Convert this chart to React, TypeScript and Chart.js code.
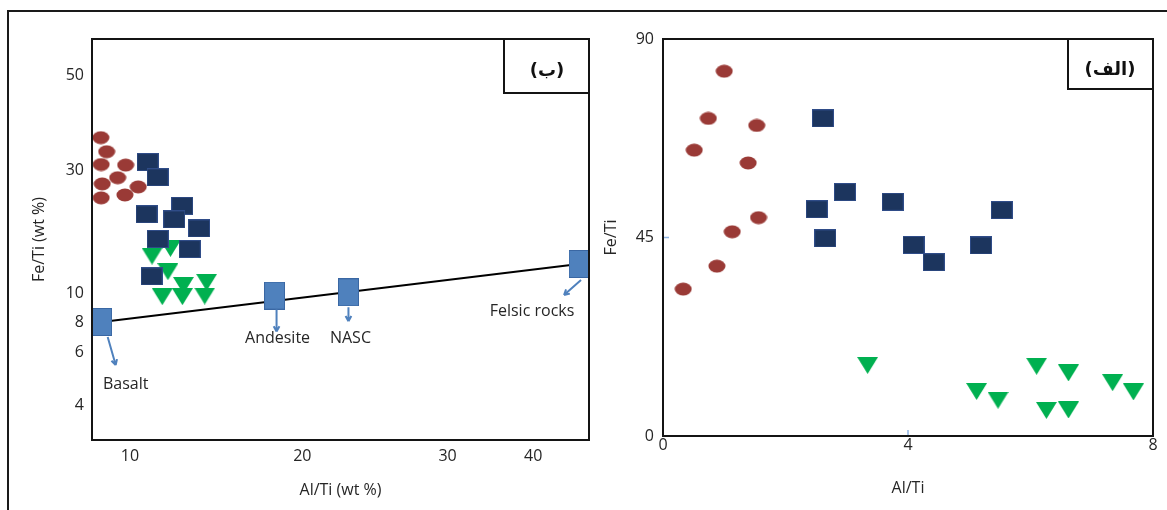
import React, { useEffect, useRef } from 'react';
import { Chart, registerables, LinearScale } from 'chart.js';

Chart.register(...registerables);

// ---------------- data: left panel (ب) ----------------
const leftCirclesX = [8.9, 9.11, 8.91, 9.83, 9.52, 8.95, 10.34, 8.91, 9.8];
const leftCirclesY = [35.7, 33.1, 30.9, 30.8, 28.0, 26.5, 25.8, 23.4, 24.0];
const leftSquaresX = [10.74, 11.18, 12.34, 10.69, 11.95, 13.21, 11.18, 12.72, 10.91];
const leftSquaresY = [31.3, 28.1, 21.8, 20.2, 19.3, 17.8, 16.2, 14.8, 11.6];
const leftTrianglesX = [11.77, 10.93, 11.65, 12.4, 13.61, 11.39, 12.35, 13.51];
const leftTrianglesY = [14.9, 13.9, 12.1, 10.7, 11.0, 9.72, 9.72, 9.77];
const refNames = ['Basalt', 'Andesite', 'NASC', 'Felsic rocks'];
const refX = [8.93, 17.89, 22.75, 46.7];
const refY = [8.0, 9.8, 10.06, 12.96];
const leftXTicks = [10, 20, 30, 40];
const leftYTicks = [4, 6, 8, 10, 30, 50];

// ---------------- data: right panel (الف) ----------------
const rightCirclesX = [1.0, 0.74, 1.53, 0.51, 1.39, 1.56, 1.13, 0.88, 0.33];
const rightCirclesY = [82.7, 72.0, 70.4, 64.8, 61.9, 49.5, 46.3, 38.5, 33.3];
const rightSquaresX = [2.61, 2.97, 2.51, 3.75, 5.53, 2.65, 4.09, 4.42, 5.19];
const rightSquaresY = [72.0, 55.3, 51.4, 53.1, 51.2, 44.8, 43.3, 39.4, 43.2];
const rightTrianglesX = [3.34, 5.12, 5.47, 6.1, 6.62, 6.26, 6.62, 7.34, 7.68];
const rightTrianglesY = [16.0, 10.1, 8.1, 15.8, 14.3, 5.8, 5.9, 12.1, 10.0];
const rightXTicks = [0, 4, 8];
const rightYTicks = [0, 45, 90];

// ---------------- axis warp of the (hand-made) left diagram ----------------
const leftXWarpValues = [8.59, 10, 20, 30, 40, 48.3];
const leftXWarpFractions = [0, 0.0763, 0.4231, 0.7155, 0.8876, 1];
const leftYWarpValues = [3.06, 4, 6, 8, 10, 30, 50, 60.7];
const leftYWarpFractions = [0, 0.0873, 0.2195, 0.2943, 0.3666, 0.6733, 0.9102, 1];

const FONT = '"Open Sans", Lato, sans-serif';
const TEXT = '#262626';
const FRAME = '#141414';
const RED = '#9a3a36';
const NAVY = '#1c355e';
const GREEN = '#00b050';
const LIGHT = '#4f81bd';

function warp(vals: number[], fr: number[], v: number): number {
  const lv = Math.log10(Math.max(v, 1e-9));
  const n = vals.length;
  for (let i = 0; i < n - 1; i++) {
    const la = Math.log10(vals[i]);
    const lb = Math.log10(vals[i + 1]);
    if (lv <= lb || i === n - 2) {
      return fr[i] + ((lv - la) / (lb - la)) * (fr[i + 1] - fr[i]);
    }
  }
  return 1;
}
function unwarp(vals: number[], fr: number[], d: number): number {
  const n = vals.length;
  for (let i = 0; i < n - 1; i++) {
    if (d <= fr[i + 1] || i === n - 2) {
      const la = Math.log10(vals[i]);
      const lb = Math.log10(vals[i + 1]);
      return Math.pow(10, la + ((d - fr[i]) / (fr[i + 1] - fr[i])) * (lb - la));
    }
  }
  return vals[n - 1];
}

class WarpScale extends LinearScale {
  static id = 'warp';
  getPixelForValue(value: number) {
    const o: any = this.options;
    return this.getPixelForDecimal(warp(o.warpValues, o.warpFractions, value));
  }
  getValueForPixel(pixel: number) {
    const o: any = this.options;
    return unwarp(o.warpValues, o.warpFractions, this.getDecimalForPixel(pixel));
  }
}
Chart.register(WarpScale as any);

function makeCanvas(w: number, h: number) {
  const c = document.createElement('canvas');
  c.width = w;
  c.height = h;
  return c;
}
function makeEllipse(w: number, h: number, color: string) {
  const c = makeCanvas(w, h);
  const g = c.getContext('2d')!;
  g.fillStyle = color;
  g.beginPath();
  g.ellipse(w / 2, h / 2, w / 2 - 0.5, h / 2 - 0.5, 0, 0, Math.PI * 2);
  g.fill();
  return c;
}
function makeRect(w: number, h: number, fill: string, stroke: string) {
  const c = makeCanvas(w, h);
  const g = c.getContext('2d')!;
  g.fillStyle = fill;
  g.fillRect(0, 0, w, h);
  g.strokeStyle = stroke;
  g.lineWidth = 1;
  g.strokeRect(0.5, 0.5, w - 1, h - 1);
  return c;
}
function makeDownTriangle(w: number, h: number, fill: string) {
  const c = makeCanvas(w, h);
  const g = c.getContext('2d')!;
  g.fillStyle = fill;
  g.beginPath();
  g.moveTo(0, 0);
  g.lineTo(w, 0);
  g.lineTo(w / 2, h);
  g.closePath();
  g.fill();
  return c;
}

function pts(xs: number[], ys: number[]) {
  return xs.map((x, i) => ({ x, y: ys[i] }));
}

function arrow(ctx: CanvasRenderingContext2D, x0: number, y0: number, x1: number, y1: number) {
  ctx.beginPath();
  ctx.moveTo(x0, y0);
  ctx.lineTo(x1, y1);
  const a = Math.atan2(y1 - y0, x1 - x0);
  const L = 6;
  ctx.moveTo(x1, y1);
  ctx.lineTo(x1 - L * Math.cos(a - 0.5), y1 - L * Math.sin(a - 0.5));
  ctx.moveTo(x1, y1);
  ctx.lineTo(x1 - L * Math.cos(a + 0.5), y1 - L * Math.sin(a + 0.5));
  ctx.stroke();
}

// annotation layout (pixel offsets from each reference point)
const refLabelLayout = [
  { ax0: 6, ay0: 15, ax1: 14, ay1: 43, tx: 24, ty: 62 },
  { ax0: 2, ay0: 14, ax1: 2, ay1: 36, tx: 3, ty: 43 },
  { ax0: 0, ay0: 15, ax1: 0, ay1: 29, tx: 2, ty: 46 },
  { ax0: 2, ay0: 16, ax1: -15, ay1: 31, tx: -47, ty: 47 },
];

const tickFont = { family: FONT, size: 16 };

export default function App() {
  const leftRef = useRef<HTMLCanvasElement>(null);
  const rightRef = useRef<HTMLCanvasElement>(null);

  useEffect(() => {
    const circleImg = makeEllipse(18, 14, RED);
    const squareImg = makeRect(22, 18, NAVY, '#2f4c88');
    const triImg = makeDownTriangle(21, 17, GREEN);
    const refImg = makeRect(21, 28, LIGHT, '#3a67a3');

    const leftDeco = {
      id: 'leftDeco',
      afterDraw(chart: any) {
        const { ctx, chartArea: a, scales } = chart;
        ctx.save();
        ctx.strokeStyle = LIGHT;
        ctx.lineWidth = 2;
        ctx.fillStyle = TEXT;
        ctx.font = `16px ${FONT}`;
        ctx.textAlign = 'center';
        ctx.textBaseline = 'middle';
        refNames.forEach((name, i) => {
          const px = scales.x.getPixelForValue(refX[i]);
          const py = scales.y.getPixelForValue(refY[i]);
          const o = refLabelLayout[i];
          arrow(ctx, px + o.ax0, py + o.ay0, px + o.ax1, py + o.ay1);
          ctx.fillText(name, px + o.tx, py + o.ty);
        });
        ctx.strokeStyle = FRAME;
        ctx.lineWidth = 2;
        ctx.strokeRect(a.left, a.top, a.right - a.left, a.bottom - a.top);
        ctx.strokeRect(a.right - 85, a.top, 85, 54);
        ctx.fillStyle = '#111';
        ctx.font = 'bold 18px "DejaVu Sans"';
        ctx.fillText('(ب)', a.right - 42, a.top + 32);
        ctx.restore();
      },
    };

    const rightDeco = {
      id: 'rightDeco',
      afterDraw(chart: any) {
        const { ctx, chartArea: a, scales } = chart;
        ctx.save();
        ctx.strokeStyle = '#8eb4e3';
        ctx.lineWidth = 1.5;
        ctx.beginPath();
        rightYTicks.forEach((v) => {
          const py = scales.y.getPixelForValue(v);
          ctx.moveTo(a.left, py);
          ctx.lineTo(a.left + 6, py);
        });
        rightXTicks.forEach((v) => {
          const px = scales.x.getPixelForValue(v);
          ctx.moveTo(px, a.bottom);
          ctx.lineTo(px, a.bottom - 6);
        });
        ctx.stroke();
        ctx.strokeStyle = FRAME;
        ctx.lineWidth = 2;
        ctx.strokeRect(a.left, a.top, a.right - a.left, a.bottom - a.top);
        ctx.strokeRect(a.right - 85, a.top, 85, 50);
        ctx.fillStyle = '#111';
        ctx.textAlign = 'center';
        ctx.textBaseline = 'middle';
        ctx.font = 'bold 18px "DejaVu Sans"';
        ctx.fillText('(الف)', a.right - 43, a.top + 31);
        ctx.restore();
      },
    };

    const left = new Chart(leftRef.current!, {
      type: 'scatter',
      data: {
        datasets: [
          { data: pts(refX, refY), pointStyle: refImg as any, pointRadius: 10, showLine: false },
          {
            data: [
              { x: refX[0], y: refY[0] },
              { x: refX[3], y: refY[3] },
            ],
            showLine: true,
            borderColor: '#000',
            borderWidth: 2,
            pointRadius: 0,
          },
          { data: pts(leftSquaresX, leftSquaresY), pointStyle: squareImg as any, pointRadius: 10 },
          { data: pts(leftTrianglesX, leftTrianglesY), pointStyle: triImg as any, pointRadius: 10 },
          { data: pts(leftCirclesX, leftCirclesY), pointStyle: circleImg as any, pointRadius: 9 },
        ] as any,
      },
      options: {
        responsive: false,
        animation: false,
        devicePixelRatio: 1,
        events: [],
        layout: { padding: { left: 0, top: 39, right: 10, bottom: 0 } },
        plugins: { legend: { display: false }, tooltip: { enabled: false } },
        scales: {
          x: {
            type: 'warp' as any,
            min: leftXWarpValues[0],
            max: leftXWarpValues[leftXWarpValues.length - 1],
            warpValues: leftXWarpValues,
            warpFractions: leftXWarpFractions,
            afterBuildTicks: (s: any) => {
              s.ticks = leftXTicks.map((v) => ({ value: v }));
            },
            afterFit: (s: any) => {
              s.height = 70;
            },
            grid: { display: false, drawTicks: false },
            border: { display: false },
            ticks: { padding: 7, font: tickFont, color: TEXT, autoSkip: false, maxRotation: 0, callback: (v: any) => String(v) },
            title: { display: true, text: 'Al/Ti (wt %)', font: tickFont, color: TEXT, padding: { top: 0, bottom: 10 } },
          } as any,
          y: {
            type: 'warp' as any,
            min: leftYWarpValues[0],
            max: leftYWarpValues[leftYWarpValues.length - 1],
            warpValues: leftYWarpValues,
            warpFractions: leftYWarpFractions,
            afterBuildTicks: (s: any) => {
              s.ticks = leftYTicks.map((v) => ({ value: v }));
            },
            afterFit: (s: any) => {
              s.width = 92;
            },
            grid: { display: false, drawTicks: false },
            border: { display: false },
            ticks: { padding: 8, font: tickFont, color: TEXT, autoSkip: false, callback: (v: any) => String(v) },
            title: { display: true, text: 'Fe/Ti (wt %)', font: tickFont, color: TEXT, padding: { top: 30, bottom: 0 } },
          } as any,
        },
      },
      plugins: [leftDeco],
    });

    const right = new Chart(rightRef.current!, {
      type: 'scatter',
      data: {
        datasets: [
          { data: pts(rightSquaresX, rightSquaresY), pointStyle: squareImg as any, pointRadius: 10 },
          { data: pts(rightTrianglesX, rightTrianglesY), pointStyle: triImg as any, pointRadius: 10 },
          { data: pts(rightCirclesX, rightCirclesY), pointStyle: circleImg as any, pointRadius: 9 },
        ] as any,
      },
      options: {
        responsive: false,
        animation: false,
        devicePixelRatio: 1,
        events: [],
        layout: { padding: { left: 0, top: 39, right: 14, bottom: 0 } },
        plugins: { legend: { display: false }, tooltip: { enabled: false } },
        scales: {
          x: {
            type: 'linear',
            min: 0,
            max: 8,
            afterBuildTicks: (s: any) => {
              s.ticks = rightXTicks.map((v) => ({ value: v }));
            },
            afterFit: (s: any) => {
              s.height = 74;
            },
            grid: { display: false, drawTicks: false },
            border: { display: false },
            ticks: { padding: 0, font: tickFont, color: TEXT, autoSkip: false, maxRotation: 0, callback: (v: any) => String(v) },
            title: { display: true, text: 'Al/Ti', font: tickFont, color: TEXT, padding: { top: 0, bottom: 12 } },
          },
          y: {
            type: 'linear',
            min: 0,
            max: 90,
            afterBuildTicks: (s: any) => {
              s.ticks = rightYTicks.map((v) => ({ value: v }));
            },
            afterFit: (s: any) => {
              s.width = 63;
            },
            grid: { display: false, drawTicks: false },
            border: { display: false },
            ticks: { padding: 9, font: tickFont, color: TEXT, autoSkip: false, callback: (v: any) => String(v) },
            title: { display: true, text: 'Fe/Ti', font: tickFont, color: TEXT, padding: { top: 2, bottom: 0 } },
          },
        },
      },
      plugins: [rightDeco],
    });

    return () => {
      left.destroy();
      right.destroy();
    };
  }, []);

  return (
    <div style={{ position: 'absolute', left: 0, top: 0, width: 1167, height: 510, overflow: 'hidden', background: '#fff' }}>
      <div
        style={{
          position: 'absolute',
          left: 7,
          top: 10,
          right: 0,
          bottom: 0,
          borderTop: '2px solid #1a1a1a',
          borderLeft: '2px solid #1a1a1a',
        }}
      />
      <canvas ref={leftRef} width={600} height={510} style={{ position: 'absolute', left: 0, top: 0 }} />
      <canvas ref={rightRef} width={567} height={510} style={{ position: 'absolute', left: 600, top: 0 }} />
    </div>
  );
}
